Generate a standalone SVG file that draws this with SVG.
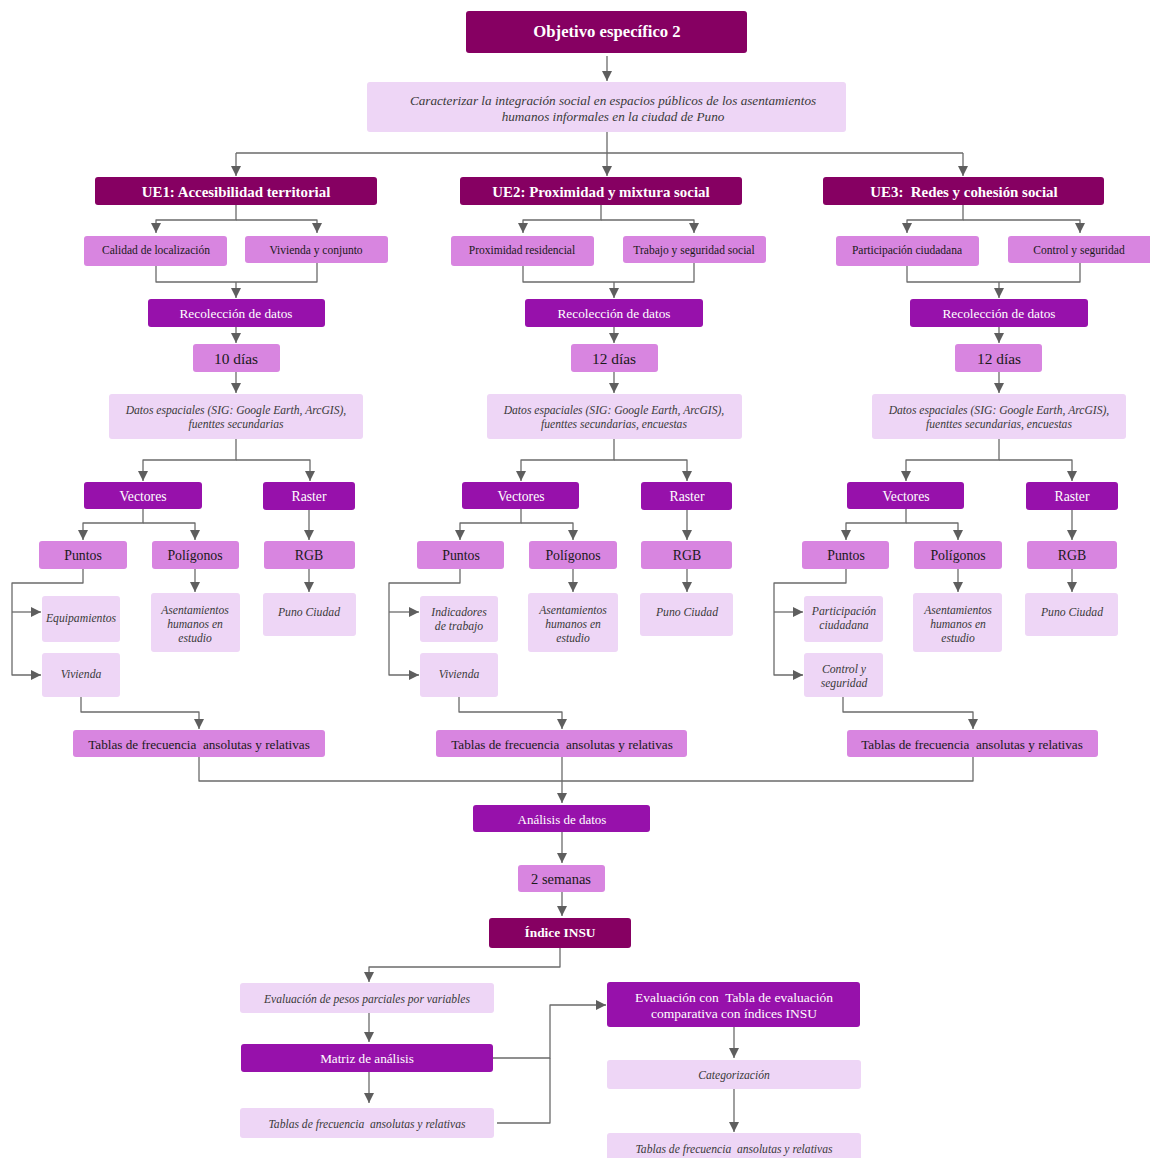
<svg xmlns="http://www.w3.org/2000/svg" width="1150" height="1158" viewBox="0 0 1150 1158">
<style>
.dk{fill:#860062}
.pu{fill:#9711AB}
.md{fill:#D885E0}
.lt{fill:#EED6F6}
text{font-family:"Liberation Serif","Times New Roman",serif;text-anchor:middle;dominant-baseline:central;white-space:pre}
.tb{fill:#fff;font-weight:bold}
.tw{fill:#fff}
.tk{fill:#1a1a1a}
.ti{fill:#3a3a3a;font-style:italic}
.c path{fill:none;stroke:#6b6b6b;stroke-width:1.3;stroke-linejoin:round}
.c .a{marker-end:url(#ah)}
</style>
<defs>
<marker id="ah" markerUnits="userSpaceOnUse" markerWidth="10" markerHeight="12" viewBox="0 0 10 10" refX="10" refY="5" orient="auto">
<path d="M0,0 L10,5 L0,10 z" fill="#5e5e5e"/>
</marker>
</defs>
<rect width="1150" height="1158" fill="#fff"/>

<g class="c" id="connectors">
<path class="a" d="M607,56 V81"/>
<path d="M607,132 V153 H236 M607,153 H963"/>
<path class="a" d="M236,153 V176"/>
<path class="a" d="M607,153 V176"/>
<path class="a" d="M963,153 V176"/>
<path class="a" d="M236,205 V220 H156 V233"/>
<path class="a" d="M236,220 H317 V233"/>
<path d="M156,266 V282 H317 V263"/>
<path class="a" d="M236,282 V298"/>
<path class="a" d="M236,327 V343"/>
<path class="a" d="M236,372 V393"/>
<path class="a" d="M236,439 V460 H143 V481"/>
<path class="a" d="M236,460 H310 V481"/>
<path class="a" d="M143,509 V523 H83 V540"/>
<path class="a" d="M143,523 H195 V540"/>
<path class="a" d="M309,510 V540"/>
<path class="a" d="M83,569 V583 H12 V675 H41"/>
<path class="a" d="M12,612 H41"/>
<path class="a" d="M195,569 V592"/>
<path class="a" d="M309,569 V592"/>
<path class="a" d="M81,697 V712 H199 V729"/>
<path class="a" d="M601,205 V220 H523 V233"/>
<path class="a" d="M601,220 H694 V233"/>
<path d="M523,266 V282 H694 V263"/>
<path class="a" d="M614,282 V298"/>
<path class="a" d="M614,327 V343"/>
<path class="a" d="M614,372 V393"/>
<path class="a" d="M614,439 V460 H521 V481"/>
<path class="a" d="M614,460 H687 V481"/>
<path class="a" d="M521,509 V523 H460 V540"/>
<path class="a" d="M521,523 H573 V540"/>
<path class="a" d="M687,510 V540"/>
<path class="a" d="M460,569 V583 H389 V675 H419"/>
<path class="a" d="M389,612 H419"/>
<path class="a" d="M573,569 V592"/>
<path class="a" d="M687,569 V592"/>
<path class="a" d="M459,697 V712 H562 V729"/>
<path class="a" d="M963,205 V220 H907 V233"/>
<path class="a" d="M963,220 H1080 V233"/>
<path d="M907,266 V282 H1080 V263"/>
<path class="a" d="M999,282 V298"/>
<path class="a" d="M999,327 V343"/>
<path class="a" d="M999,372 V393"/>
<path class="a" d="M999,439 V460 H906 V481"/>
<path class="a" d="M999,460 H1072 V481"/>
<path class="a" d="M906,509 V523 H846 V540"/>
<path class="a" d="M906,523 H958 V540"/>
<path class="a" d="M1072,510 V540"/>
<path class="a" d="M846,569 V583 H774 V675 H803"/>
<path class="a" d="M774,612 H803"/>
<path class="a" d="M958,569 V592"/>
<path class="a" d="M1072,569 V592"/>
<path class="a" d="M843,697 V712 H973 V729"/>
<path d="M199,757 V781 H973 V757"/>
<path class="a" d="M562,757 V803"/>
<path class="a" d="M562,832 V863"/>
<path class="a" d="M562,892 V916"/>
<path class="a" d="M560,948 V967 H369 V982"/>
<path class="a" d="M369,1013 V1042"/>
<path class="a" d="M369,1072 V1103"/>
<path class="a" d="M493,1058 H550 V1005 H606"/>
<path d="M497,1123 H550 V1058"/>
<path class="a" d="M734,1027 V1058"/>
<path class="a" d="M734,1089 V1132"/>
</g>

<g id="objetivo"><rect class="dk" x="466" y="11" width="281" height="42" rx="3"/><text class="tb" x="607" y="31" font-size="16.7">Objetivo específico 2</text></g>
<g id="caracterizar"><rect class="lt" x="367" y="82" width="479" height="50" rx="3"/><text class="ti" x="613" y="100" font-size="13.2">Caracterizar la integración social en espacios públicos de los asentamientos</text><text class="ti" x="613" y="116" font-size="13.2">humanos informales en la ciudad de Puno</text></g>

<g id="ue1"><rect class="dk" x="95" y="177" width="282" height="28" rx="3"/><text class="tb" x="236" y="192" font-size="14.9">UE1: Accesibilidad territorial</text></g>
<g id="ue1-calidad"><rect class="md" x="84" y="236" width="143" height="30" rx="3"/><text class="tk" x="156" y="250" font-size="11.5">Calidad de localización</text></g>
<g id="ue1-vivienda"><rect class="md" x="245" y="236" width="143" height="27" rx="3"/><text class="tk" x="316" y="250" font-size="11.5">Vivienda y conjunto</text></g>
<g id="ue1-recoleccion"><rect class="pu" x="148" y="299" width="177" height="28" rx="3"/><text class="tw" x="236" y="313" font-size="13.3">Recolección de datos</text></g>
<g id="ue1-dias"><rect class="md" x="193" y="344" width="87" height="28" rx="3"/><text class="tk" x="236" y="358" font-size="15.4">10 días</text></g>
<g id="ue1-datos"><rect class="lt" x="109" y="394" width="254" height="45" rx="3"/><text class="ti" x="236" y="410" font-size="11.6">Datos espaciales (SIG: Google Earth, ArcGIS),</text><text class="ti" x="236" y="424" font-size="11.6">fuenttes secundarias</text></g>
<g id="ue1-vectores"><rect class="pu" x="84" y="482" width="118" height="27" rx="3"/><text class="tw" x="143" y="496" font-size="13.7">Vectores</text></g>
<g id="ue1-raster"><rect class="pu" x="263" y="482" width="92" height="28" rx="3"/><text class="tw" x="309" y="496" font-size="13.7">Raster</text></g>
<g id="ue1-puntos"><rect class="md" x="39" y="541" width="88" height="28" rx="3"/><text class="tk" x="83" y="555" font-size="13.8">Puntos</text></g>
<g id="ue1-poligonos"><rect class="md" x="152" y="541" width="87" height="28" rx="3"/><text class="tk" x="195" y="555" font-size="13.8">Polígonos</text></g>
<g id="ue1-rgb"><rect class="md" x="264" y="541" width="91" height="28" rx="3"/><text class="tk" x="309" y="555" font-size="13.8">RGB</text></g>
<g id="ue1-equip"><rect class="lt" x="42" y="596" width="78" height="46" rx="3"/><text class="ti" x="81" y="618" font-size="11.7">Equipamientos</text></g>
<g id="ue1-viv"><rect class="lt" x="42" y="653" width="78" height="44" rx="3"/><text class="ti" x="81" y="674" font-size="11.7">Vivienda</text></g>
<g id="ue1-asent"><rect class="lt" x="151" y="593" width="89" height="59" rx="3"/><text class="ti" x="195" y="610" font-size="11.6">Asentamientos</text><text class="ti" x="195" y="624" font-size="11.6">humanos en</text><text class="ti" x="195" y="638" font-size="11.6">estudio</text></g>
<g id="ue1-puno"><rect class="lt" x="263" y="593" width="93" height="43" rx="3"/><text class="ti" x="309" y="612" font-size="11.7">Puno Ciudad</text></g>
<g id="ue1-tablas"><rect class="md" x="73" y="730" width="252" height="27" rx="3"/><text class="tk" x="199" y="744" font-size="13.2">Tablas de frecuencia  ansolutas y relativas</text></g>

<g id="ue2"><rect class="dk" x="460" y="177" width="282" height="28" rx="3"/><text class="tb" x="601" y="192" font-size="14.9">UE2: Proximidad y mixtura social</text></g>
<g id="ue2-prox"><rect class="md" x="451" y="236" width="143" height="30" rx="3"/><text class="tk" x="522" y="250" font-size="11.5">Proximidad residencial</text></g>
<g id="ue2-trabajo"><rect class="md" x="623" y="236" width="143" height="27" rx="3"/><text class="tk" x="694" y="250" font-size="11.5">Trabajo y seguridad social</text></g>
<g id="ue2-recoleccion"><rect class="pu" x="525" y="299" width="178" height="28" rx="3"/><text class="tw" x="614" y="313" font-size="13.3">Recolección de datos</text></g>
<g id="ue2-dias"><rect class="md" x="571" y="344" width="87" height="28" rx="3"/><text class="tk" x="614" y="358" font-size="15.4">12 días</text></g>
<g id="ue2-datos"><rect class="lt" x="487" y="394" width="255" height="45" rx="3"/><text class="ti" x="614" y="410" font-size="11.6">Datos espaciales (SIG: Google Earth, ArcGIS),</text><text class="ti" x="614" y="424" font-size="11.6">fuenttes secundarias, encuestas</text></g>
<g id="ue2-vectores"><rect class="pu" x="462" y="482" width="117" height="27" rx="3"/><text class="tw" x="521" y="496" font-size="13.7">Vectores</text></g>
<g id="ue2-raster"><rect class="pu" x="641" y="482" width="91" height="28" rx="3"/><text class="tw" x="687" y="496" font-size="13.7">Raster</text></g>
<g id="ue2-puntos"><rect class="md" x="417" y="541" width="87" height="28" rx="3"/><text class="tk" x="461" y="555" font-size="13.8">Puntos</text></g>
<g id="ue2-poligonos"><rect class="md" x="529" y="541" width="88" height="28" rx="3"/><text class="tk" x="573" y="555" font-size="13.8">Polígonos</text></g>
<g id="ue2-rgb"><rect class="md" x="641" y="541" width="91" height="28" rx="3"/><text class="tk" x="687" y="555" font-size="13.8">RGB</text></g>
<g id="ue2-indic"><rect class="lt" x="420" y="596" width="78" height="46" rx="3"/><text class="ti" x="459" y="612" font-size="11.7">Indicadores</text><text class="ti" x="459" y="626" font-size="11.7">de trabajo</text></g>
<g id="ue2-viv"><rect class="lt" x="420" y="653" width="78" height="44" rx="3"/><text class="ti" x="459" y="674" font-size="11.7">Vivienda</text></g>
<g id="ue2-asent"><rect class="lt" x="528" y="593" width="90" height="59" rx="3"/><text class="ti" x="573" y="610" font-size="11.6">Asentamientos</text><text class="ti" x="573" y="624" font-size="11.6">humanos en</text><text class="ti" x="573" y="638" font-size="11.6">estudio</text></g>
<g id="ue2-puno"><rect class="lt" x="640" y="593" width="93" height="43" rx="3"/><text class="ti" x="687" y="612" font-size="11.7">Puno Ciudad</text></g>
<g id="ue2-tablas"><rect class="md" x="436" y="730" width="251" height="27" rx="3"/><text class="tk" x="562" y="744" font-size="13.2">Tablas de frecuencia  ansolutas y relativas</text></g>

<g id="ue3"><rect class="dk" x="823" y="177" width="281" height="28" rx="3"/><text class="tb" x="964" y="192" font-size="14.9">UE3:  Redes y cohesión social</text></g>
<g id="ue3-part"><rect class="md" x="836" y="236" width="143" height="30" rx="3"/><text class="tk" x="907" y="250" font-size="11.5">Participación ciudadana</text></g>
<g id="ue3-control"><rect class="md" x="1008" y="236" width="145" height="27" rx="3"/><text class="tk" x="1079" y="250" font-size="11.5">Control y seguridad</text></g>
<g id="ue3-recoleccion"><rect class="pu" x="910" y="299" width="178" height="28" rx="3"/><text class="tw" x="999" y="313" font-size="13.3">Recolección de datos</text></g>
<g id="ue3-dias"><rect class="md" x="955" y="344" width="87" height="28" rx="3"/><text class="tk" x="999" y="358" font-size="15.4">12 días</text></g>
<g id="ue3-datos"><rect class="lt" x="872" y="394" width="254" height="45" rx="3"/><text class="ti" x="999" y="410" font-size="11.6">Datos espaciales (SIG: Google Earth, ArcGIS),</text><text class="ti" x="999" y="424" font-size="11.6">fuenttes secundarias, encuestas</text></g>
<g id="ue3-vectores"><rect class="pu" x="847" y="482" width="117" height="27" rx="3"/><text class="tw" x="906" y="496" font-size="13.7">Vectores</text></g>
<g id="ue3-raster"><rect class="pu" x="1026" y="482" width="92" height="28" rx="3"/><text class="tw" x="1072" y="496" font-size="13.7">Raster</text></g>
<g id="ue3-puntos"><rect class="md" x="802" y="541" width="87" height="28" rx="3"/><text class="tk" x="846" y="555" font-size="13.8">Puntos</text></g>
<g id="ue3-poligonos"><rect class="md" x="914" y="541" width="88" height="28" rx="3"/><text class="tk" x="958" y="555" font-size="13.8">Polígonos</text></g>
<g id="ue3-rgb"><rect class="md" x="1027" y="541" width="90" height="28" rx="3"/><text class="tk" x="1072" y="555" font-size="13.8">RGB</text></g>
<g id="ue3-partc"><rect class="lt" x="804" y="596" width="79" height="46" rx="3"/><text class="ti" x="844" y="611" font-size="11.7">Participación</text><text class="ti" x="844" y="625" font-size="11.7">ciudadana</text></g>
<g id="ue3-ctrl"><rect class="lt" x="804" y="653" width="79" height="44" rx="3"/><text class="ti" x="844" y="669" font-size="11.7">Control y</text><text class="ti" x="844" y="683" font-size="11.7">seguridad</text></g>
<g id="ue3-asent"><rect class="lt" x="913" y="593" width="89" height="59" rx="3"/><text class="ti" x="958" y="610" font-size="11.6">Asentamientos</text><text class="ti" x="958" y="624" font-size="11.6">humanos en</text><text class="ti" x="958" y="638" font-size="11.6">estudio</text></g>
<g id="ue3-puno"><rect class="lt" x="1025" y="593" width="93" height="43" rx="3"/><text class="ti" x="1072" y="612" font-size="11.7">Puno Ciudad</text></g>
<g id="ue3-tablas"><rect class="md" x="847" y="730" width="251" height="27" rx="3"/><text class="tk" x="972" y="744" font-size="13.2">Tablas de frecuencia  ansolutas y relativas</text></g>

<g id="analisis"><rect class="pu" x="473" y="805" width="177" height="27" rx="3"/><text class="tw" x="562" y="819" font-size="13">Análisis de datos</text></g>
<g id="semanas"><rect class="md" x="518" y="865" width="87" height="27" rx="3"/><text class="tk" x="561" y="879" font-size="14.5">2 semanas</text></g>
<g id="indice"><rect class="dk" x="489" y="918" width="142" height="30" rx="3"/><text class="tb" x="560" y="932" font-size="13.4">Índice INSU</text></g>
<g id="eval-pesos"><rect class="lt" x="240" y="983" width="254" height="30" rx="3"/><text class="ti" x="367" y="999" font-size="11.6">Evaluación de pesos parciales por variables</text></g>
<g id="matriz"><rect class="pu" x="241" y="1044" width="252" height="28" rx="3"/><text class="tw" x="367" y="1058" font-size="13.2">Matriz de análisis</text></g>
<g id="tablas-izq"><rect class="lt" x="240" y="1108" width="254" height="30" rx="3"/><text class="ti" x="367" y="1124" font-size="11.6">Tablas de frecuencia  ansolutas y relativas</text></g>
<g id="eval-con"><rect class="pu" x="607" y="982" width="253" height="45" rx="3"/><text class="tw" x="734" y="997" font-size="13.5">Evaluación con  Tabla de evaluación</text><text class="tw" x="734" y="1013" font-size="13.5">comparativa con índices INSU</text></g>
<g id="categorizacion"><rect class="lt" x="607" y="1060" width="254" height="29" rx="3"/><text class="ti" x="734" y="1075" font-size="11.6">Categorización</text></g>
<g id="tablas-der"><rect class="lt" x="607" y="1133" width="254" height="32" rx="3"/><text class="ti" x="734" y="1149" font-size="11.6">Tablas de frecuencia  ansolutas y relativas</text></g>
</svg>
